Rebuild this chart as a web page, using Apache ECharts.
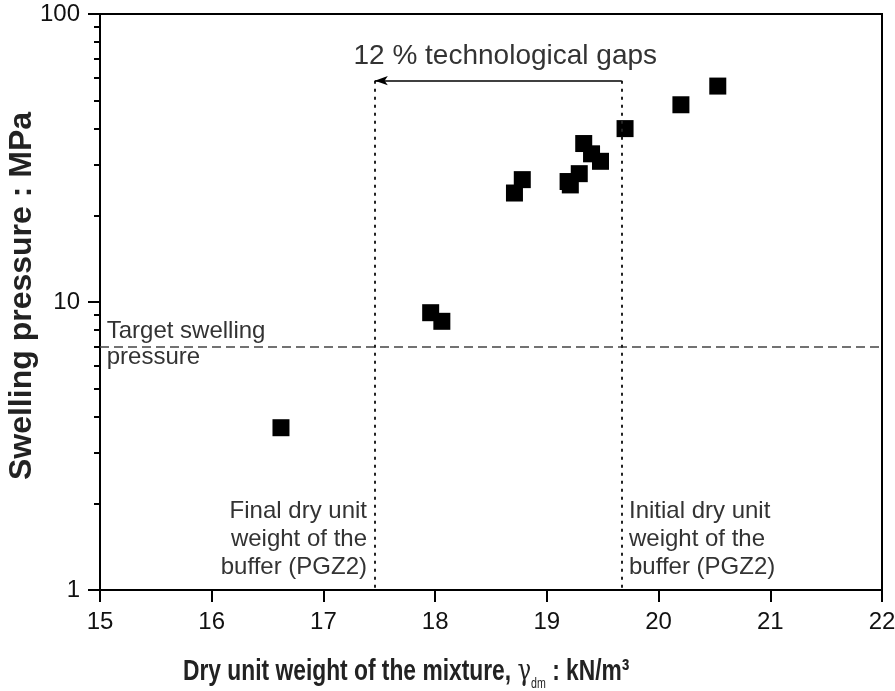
<!DOCTYPE html>
<html>
<head>
<meta charset="utf-8">
<script src="https://cdn.jsdelivr.net/npm/echarts@6/dist/echarts.min.js"></script>
<style>
  html, body { margin: 0; padding: 0; background: #fff; }
  #chart { width: 895px; height: 691px; }
</style>
</head>
<body>
<div id="chart"></div>
<script>
// measured points: dry unit weight (kN/m3) vs swelling pressure (MPa)
var dryWeight = [16.62, 17.96, 18.06, 18.71, 18.78, 19.19, 19.21, 19.29, 19.33, 19.40, 19.48, 19.70, 20.20, 20.53]
var swelling = [3.66, 9.18, 8.57, 23.9, 26.6, 26.2, 25.5, 27.9, 35.5, 32.7, 30.8, 40.0, 48.4, 56.2]

var targetPressure = 7
var finalWeight = 17.46   // final dry unit weight of the buffer
var initialWeight = 19.67 // initial dry unit weight of the buffer
var gapLevel = 58.7       // height of the arrow

var xTicks = [15, 16, 17, 18, 19, 20, 21, 22]
var yMajorTicks = [1, 10, 100]
var yMinorTicks = [2, 3, 4, 5, 6, 7, 8, 9, 20, 30, 40, 50, 60, 70, 80, 90]

var Chart = echarts.init(document.getElementById('chart'))

var textFont = 'Liberation Sans'
var dotted = { type: [3, 5], color: '#222', width: 2 }

var option = {
  animation: false,
  grid: {
    left: 100,
    right: 13,
    top: 14,
    bottom: 101,
    outerBoundsMode: 'none',
    containLabel: false,
    show: true,
    borderColor: '#000',
    borderWidth: 2
  },
  xAxis: {
    type: 'value',
    min: xTicks[0],
    max: xTicks[xTicks.length - 1],
    interval: 1,
    axisLine: { lineStyle: { color: '#000', width: 2 } },
    axisTick: { length: 12, lineStyle: { color: '#000', width: 2 } },
    axisLabel: { fontSize: 24, color: '#111', margin: 20, fontFamily: textFont },
    splitLine: { show: false }
  },
  yAxis: [
    {
      // minor ticks only
      type: 'log',
      logBase: 10,
      min: 1,
      max: 100,
      axisLine: { lineStyle: { color: '#000', width: 2 } },
      axisTick: { length: 6, customValues: yMinorTicks, lineStyle: { color: '#000', width: 2 } },
      axisLabel: { show: false },
      splitLine: { show: false }
    },
    {
      // major ticks, labels and title
      type: 'log',
      logBase: 10,
      min: 1,
      max: 100,
      position: 'left',
      axisLine: { show: false },
      axisTick: { length: 12, customValues: yMajorTicks, lineStyle: { color: '#000', width: 2 } },
      axisLabel: { fontSize: 24, color: '#111', margin: 20, fontFamily: textFont, customValues: yMajorTicks },
      splitLine: { show: false },
      name: 'Swelling pressure : MPa',
      nameLocation: 'middle',
      nameMoveOverlap: false,
      nameGap: 62,
      nameTextStyle: {
        fontSize: 32,
        fontWeight: 'bold',
        color: '#222',
        fontFamily: textFont,
        padding: [0, 0, 0, 12]
      }
    }
  ],
  graphic: [
    {
      type: 'text',
      x: 183,
      y: 672,
      scaleX: 0.76,
      silent: true,
      style: {
        text: 'Dry unit weight of the mixture, {g|γ}{sub|dm}{n| : kN/m³}',
        font: 'bold 30px "Liberation Sans"',
        fill: '#222',
        align: 'left',
        verticalAlign: 'middle',
        rich: {
          g: { fontSize: 30, fontWeight: 'normal', fill: '#222', fontFamily: 'DejaVu Serif' },
          sub: { fontSize: 14, fontWeight: 'normal', fill: '#222', padding: [24, 0, 0, 0], fontFamily: textFont },
          n: { fontSize: 30, fontWeight: 'bold', fill: '#222', fontFamily: textFont }
        }
      }
    }
  ],
  series: [
    {
      type: 'scatter',
      data: dryWeight.map(function (x, i) { return [x, swelling[i]] }),
      symbol: 'rect',
      symbolSize: 17,
      itemStyle: { color: '#000', opacity: 1 },
      markLine: {
        silent: true,
        symbol: 'none',
        label: { show: false },
        data: [
          [
            { coord: [xTicks[0], targetPressure] },
            { coord: [xTicks[xTicks.length - 1], targetPressure] }
          ],
          [
            { coord: [finalWeight, gapLevel], lineStyle: dotted },
            { coord: [finalWeight, 1] }
          ],
          [
            { coord: [initialWeight, gapLevel], lineStyle: dotted },
            { coord: [initialWeight, 1] }
          ],
          [
            {
              coord: [initialWeight, gapLevel],
              symbol: 'none',
              lineStyle: { type: 'solid', color: '#000', width: 1.5 },
              label: {
                show: true,
                position: 'middle',
                formatter: '12 % technological gaps',
                fontSize: 28,
                color: '#333',
                fontFamily: textFont,
                padding: [0, 0, 0, 14],
                distance: 10
              }
            },
            { coord: [finalWeight, gapLevel], symbol: 'arrow', symbolSize: [7, 13] }
          ]
        ],
        lineStyle: { type: [9, 5], color: '#444', width: 1.5 }
      },
      markPoint: {
        silent: true,
        symbol: 'circle',
        symbolSize: 0,
        label: {
          show: true,
          position: 'inside',
          formatter: '{b}',
          fontSize: 24,
          color: '#333',
          fontFamily: textFont
        },
        data: [
          {
            name: 'Target swelling\npressure',
            coord: [15.06, 7.13],
            label: { align: 'left', verticalAlign: 'middle', lineHeight: 26 }
          },
          {
            name: 'Final dry unit\nweight of the\nbuffer (PGZ2)',
            coord: [17.39, 1.075],
            label: { align: 'right', verticalAlign: 'bottom', lineHeight: 28 }
          },
          {
            name: 'Initial dry unit\nweight of the\nbuffer (PGZ2)',
            coord: [19.735, 1.075],
            label: { align: 'left', verticalAlign: 'bottom', lineHeight: 28 }
          }
        ]
      }
    }
  ]
}
Chart.setOption(option)
</script>
</body>
</html>
